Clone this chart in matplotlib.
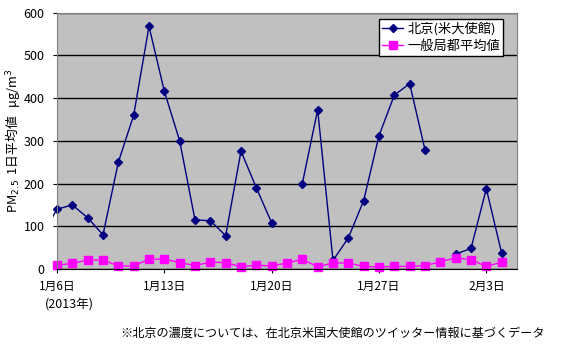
import matplotlib
matplotlib.use('Agg')
import matplotlib.pyplot as plt
from matplotlib.patches import Rectangle
import numpy as np

plt.rcParams['font.family'] = ['Noto Sans CJK JP', 'DejaVu Sans']

# day index 0 = 1月6日, -1 = 1月5日 (only its line stub is visible)
days = np.arange(-1, 30)
beijing = [77, 140, 150, 120, 80, 250, 360, 568, 416, 300, 115, 113, 78, 276, 190, 108,
           np.nan, 200, 373, 20, 73, 160, 312, 407, 434, 279,
           np.nan, 35, 48, 188, 37]
tokyo = [np.nan, 9, 13, 21, 21, 7, 7, 23, 23, 15, 8, 16, 15, 5, 9, 7, 14, 23, 5, 14, 14, 6,
         5, 6, 6, 8, 17, 26, 22, 6, 16]
tick_days = [0, 7, 14, 21, 28]
tick_labels = ['1月6日', '1月13日', '1月20日', '1月27日', '2月3日']

fig = plt.figure(figsize=(5.64, 3.51), dpi=100)
ax = fig.add_axes([57/564, 1-269/351, 460/564, 256.3/351])
ax.set_facecolor('#C0C0C0')

b, = ax.plot(days, beijing, color='#000080', marker='D', markersize=4.5, linewidth=1,
             label='北京(米大使館)')
clip = Rectangle((-0.009, 0), 1.018, 1, transform=ax.transAxes, facecolor='none')
b.set_clip_path(clip)
ax.plot(days, tokyo, color='#FF00FF', marker='s', markersize=5.5, linewidth=1,
        label='一般局都平均値', clip_on=False)

ax.set_xlim(0, 30)
ax.set_ylim(0, 600)
ax.set_yticks(range(0, 601, 100))
ax.yaxis.grid(True, color='black', linewidth=1)
ax.set_axisbelow(True)
ax.set_xticks(tick_days)
ax.set_xticklabels(tick_labels, fontsize=8.5)
ax.tick_params(axis='y', labelsize=9, length=3, color='black', pad=6)
ax.tick_params(axis='x', length=3, pad=5)
for s in ['top', 'right', 'left']:
    ax.spines[s].set_color('#808080')
ax.spines['bottom'].set_color('black')

ax.set_ylabel('PM$_{2.5}$  1日平均値   μg/m$^3$', fontsize=9.2)
ax.yaxis.set_label_coords(-35/460, 0.5)

leg = ax.legend(loc='upper right', bbox_to_anchor=(0.97, 0.975), fontsize=9.5, frameon=True,
                fancybox=False, framealpha=1, edgecolor='black', borderpad=0.25,
                handlelength=1.6, handletextpad=0.3, labelspacing=0.3, borderaxespad=0)
leg.get_frame().set_linewidth(1)

fig.text(45/564, 1-305/351, '(2013年)', fontsize=9, va='center')
fig.text(545/564, 1-333/351, '※北京の濃度については、在北京米国大使館のツイッター情報に基づくデータ',
         fontsize=8.7, va='center', ha='right')

fig.savefig('out.png', dpi=100)
